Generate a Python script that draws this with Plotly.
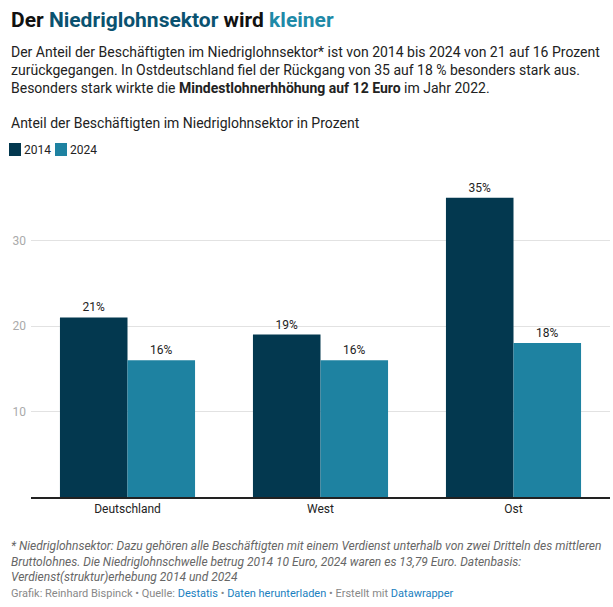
import plotly.graph_objects as go

categories = ["Deutschland", "West", "Ost"]
values_2014 = [21, 19, 35]
values_2024 = [16, 16, 18]
series_names = ["2014", "2024"]
tick_vals = [10, 20, 30]

C2014 = "#03384f"
C2024 = "#1e82a1"
W, H = 613, 607
L, R, T, B = 31, 3, 170, 110
PW, PH = W - L - R, H - T - B


def px(x):
    return (x - L) / PW


def py(y):
    return (H - B - y) / PH


fig = go.Figure()
for name, vals, col in [(series_names[0], values_2014, C2014), (series_names[1], values_2024, C2024)]:
    fig.add_trace(go.Bar(
        x=categories, y=vals, name=name, marker_color=col, marker_line_width=0,
        texttemplate="%{y}%", textposition="outside",
        textfont=dict(size=12, color="#222222", family="Roboto"),
        cliponaxis=False, showlegend=False,
    ))

fig.update_layout(
    width=W, height=H,
    margin=dict(l=L, r=R, t=T, b=B),
    paper_bgcolor="white", plot_bgcolor="white",
    barmode="group", bargap=0.3, bargroupgap=0,
    font=dict(family="Roboto", color="#222222"),
    showlegend=False,
    xaxis=dict(showline=True, linecolor="#222222", linewidth=1.5, ticks="",
               tickfont=dict(size=12, color="#222222"), showgrid=False, fixedrange=True),
    yaxis=dict(range=[0, PH / 8.55], tickvals=tick_vals, showgrid=True, gridcolor="#e2e2e2",
               gridwidth=1, zeroline=False, showline=False, ticks="",
               tickfont=dict(size=12, color="#aaaaaa"), ticklabelstandoff=4, fixedrange=True),
)

# custom legend
for i, (name, col) in enumerate(zip(series_names, [C2014, C2024])):
    x0 = 9 + i * 46
    fig.add_shape(type="rect", xref="paper", yref="paper",
                  x0=px(x0), x1=px(x0 + 12), y0=py(156), y1=py(143),
                  fillcolor=col, line_width=0)
    fig.add_annotation(xref="paper", yref="paper", x=px(x0 + 13), y=py(150), text=name,
                       xanchor="left", yanchor="middle", showarrow=False,
                       font=dict(size=12, color="#222222"))

ann = [
    dict(x=px(9), y=py(20), text="<b>Der <span style='color:#0a5270'>Niedriglohnsektor</span> wird <span style='color:#1f8aa8'>kleiner</span></b>",
         font=dict(size=21, color="#111111")),
    dict(x=px(9), y=py(70),
         text="Der Anteil der Beschäftigten im Niedriglohnsektor* ist von 2014 bis 2024 von 21 auf 16 Prozent<br>"
              "zurückgegangen. In Ostdeutschland fiel der Rückgang von 35 auf 18 % besonders stark aus.<br>"
              "Besonders stark wirkte die <b>Mindestlohnerhhöhung auf 12 Euro</b> im Jahr 2022.",
         font=dict(size=14, color="#222222")),
    dict(x=px(9), y=py(123), text="Anteil der Beschäftigten im Niedriglohnsektor in Prozent",
         font=dict(size=14, color="#222222")),
    dict(x=px(9), y=py(561),
         text="<i>* Niedriglohnsektor: Dazu gehören alle Beschäftigten mit einem Verdienst unterhalb von zwei Dritteln des mittleren<br>"
              "Bruttolohnes. Die Niedriglohnschwelle betrug 2014 10 Euro, 2024 waren es 13,79 Euro. Datenbasis:<br>"
              "Verdienst(struktur)erhebung 2014 und 2024</i>",
         font=dict(size=12, color="#666666")),
    dict(x=px(9), y=py(593),
         text="Grafik: Reinhard Bispinck • Quelle: <span style='color:#1a7fc0'>Destatis</span> • "
              "<span style='color:#1a7fc0'>Daten herunterladen</span> • Erstellt mit <span style='color:#1a7fc0'>Datawrapper</span>",
         font=dict(size=11, color="#888888")),
]
for a in ann:
    fig.add_annotation(xref="paper", yref="paper", xanchor="left", yanchor="middle",
                       align="left", showarrow=False, **a)

fig.write_html("out.html", config={"displayModeBar": False},
               post_script="document.body.style.margin='0';document.body.style.padding='0';")
